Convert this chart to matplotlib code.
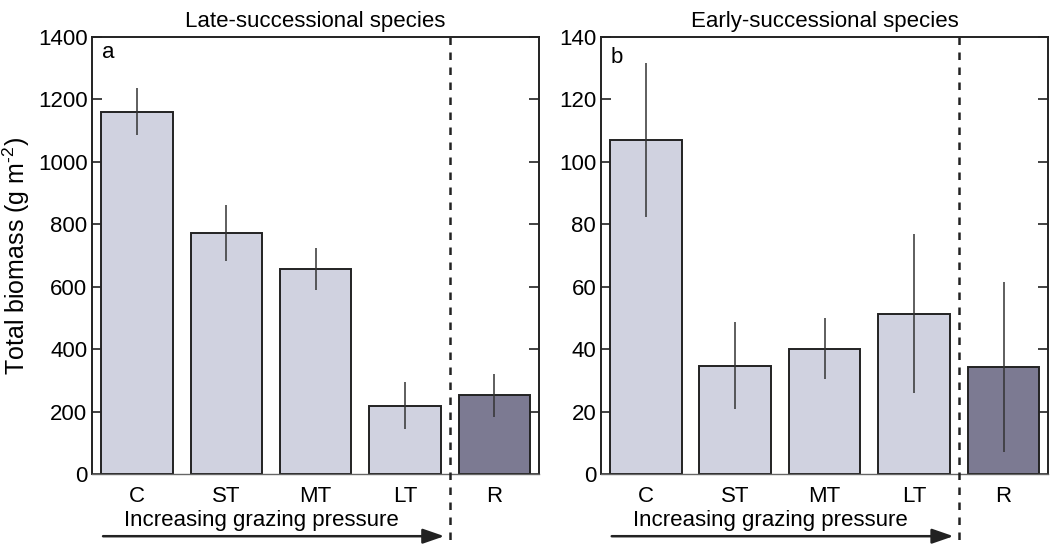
import numpy as np
import matplotlib
matplotlib.use("Agg")
import matplotlib.pyplot as plt
import matplotlib.transforms as mtransforms

plt.rcParams['font.family'] = ['Liberation Sans', 'DejaVu Sans']
plt.rcParams['mathtext.fontset'] = 'custom'
plt.rcParams['mathtext.rm'] = 'Liberation Sans'
plt.rcParams['mathtext.it'] = 'Liberation Sans'

categories = ['C', 'ST', 'MT', 'LT', 'R']

late_mean = [1160, 773, 658, 220, 253]
late_err = [76, 89, 67, 75, 68]

early_mean = [107, 34.8, 40.2, 51.4, 34.4]
early_err = [24.7, 13.8, 9.8, 25.5, 27.2]

light = '#d0d2e0'
dark = '#7c7a92'
edge = '#222222'


def draw_panel(ax, means, errs, ymax, step, title, letter, letter_y):
    x = np.arange(len(categories))
    colors = [light] * 4 + [dark]
    ax.bar(x, means, width=0.8, color=colors, edgecolor=edge, linewidth=1.4, zorder=2)
    ax.errorbar(x, means, yerr=errs, fmt='none', ecolor='#333333', elinewidth=1.1,
                capsize=0, zorder=3)

    ax.set_xlim(-0.5, 4.5)
    ax.set_ylim(0, ymax)
    ax.set_yticks(np.arange(0, ymax + 1, step))
    ax.set_xticks(x)
    ax.set_xticklabels(categories)
    ax.tick_params(axis='x', length=0, labelsize=16, pad=8)
    ax.tick_params(axis='y', direction='in', length=7, width=1.2, labelsize=16,
                   right=True, color='#222222')
    for s in ['left', 'right', 'top']:
        ax.spines[s].set_linewidth(1.4)
        ax.spines[s].set_color('#222222')
    ax.spines['bottom'].set_linewidth(1.0)
    ax.spines['bottom'].set_color('#666666')

    ax.set_title(title, fontsize=16, pad=7)
    ax.text(0.022, letter_y, letter, transform=ax.transAxes, fontsize=16,
            va='baseline', ha='left')

    # dashed separator for the reference site
    trans = mtransforms.blended_transform_factory(ax.transData, ax.transAxes)
    ax.plot([3.5, 3.5], [1.0, -0.17], transform=trans, color='#222222', lw=1.8,
            ls=(0, (3, 3)), clip_on=False, zorder=4)

    # grazing pressure arrow
    ax.annotate('', xy=(3.44, -0.141), xytext=(-0.38, -0.141), xycoords=trans,
                textcoords=trans,
                arrowprops=dict(arrowstyle='-|>,head_length=1.3,head_width=0.45',
                                color='#222222', lw=1.8, shrinkA=0, shrinkB=0),
                annotation_clip=False)
    ax.text(1.39, -0.106, 'Increasing grazing pressure', transform=trans,
            ha='center', va='center', fontsize=16)


fig = plt.figure(figsize=(10.54, 5.45), dpi=100)
ax1 = fig.add_axes([0.0876, 0.1294, 0.4238, 0.8033])
ax2 = fig.add_axes([0.5702, 0.1294, 0.4244, 0.8033])

draw_panel(ax1, late_mean, late_err, 1400, 200, 'Late-successional species', 'a', 0.951)
draw_panel(ax2, early_mean, early_err, 140, 20, 'Early-successional species', 'b', 0.939)

ax1.set_ylabel(r'Total biomass (g m$^{\text{-2}}$)', fontsize=18, labelpad=4)

fig.savefig('out.png', dpi=100)
